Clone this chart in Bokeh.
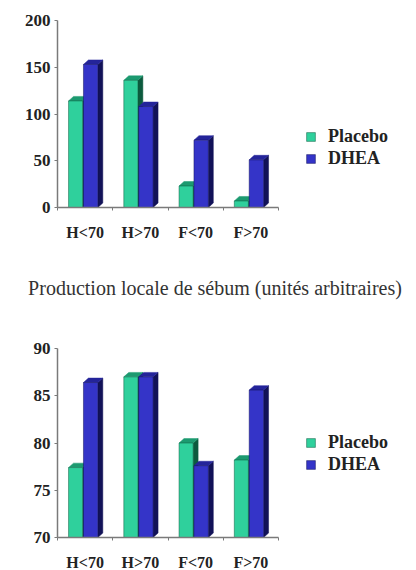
from bokeh.plotting import figure
from bokeh.models import FixedTicker, Legend, LegendItem, Div
from bokeh.layouts import column
from bokeh.embed import file_html
from bokeh.resources import INLINE

categories = ["H<70", "H>70", "F<70", "F>70"]
series = ["Placebo", "DHEA"]

# Chart 1: production locale de sébum
top_placebo = [114, 136, 23, 7]
top_dhea = [153, 108, 72, 51]
top_ticks = [0, 50, 100, 150, 200]

# Chart 2
bot_placebo = [77.4, 87.0, 80.0, 78.2]
bot_dhea = [86.4, 87.0, 77.6, 85.6]
bot_ticks = [70, 75, 80, 85, 90]

caption = "Production locale de sébum (unités arbitraires)"

FRONT = {"Placebo": "#2fd09c", "DHEA": "#3434c8"}
TOPC = {"Placebo": "#1c9a70", "DHEA": "#24249a"}
SIDE = {"Placebo": "#0c5a3e", "DHEA": "#121258"}
FONT = "Liberation Serif"

FIG_W = 410
BORDER_L = 57
BORDER_R = 10
PLOT_PX = 221  # pixel width used by the four category slots


def make_chart(pl, dh, ticks, height, top_border, bottom_border, legend_y):
    y0, y1 = ticks[0], ticks[-1]
    n = len(categories)
    frame_w = FIG_W - BORDER_L - BORDER_R
    x_end = n * frame_w / PLOT_PX
    p = figure(width=FIG_W, height=height, output_backend="svg", toolbar_location=None,
               x_range=(0, x_end), y_range=(y0, y1),
               min_border_left=BORDER_L, min_border_right=BORDER_R,
               min_border_top=top_border, min_border_bottom=bottom_border)
    p.outline_line_color = None
    p.grid.visible = False
    p.background_fill_color = "white"

    frame_px = height - top_border - bottom_border
    dy = (y1 - y0) / frame_px * 4.5
    dx = 0.09
    offsets = {"Placebo": (0.20, 0.455), "DHEA": (0.47, 0.73)}
    items = []
    for name, vals in zip(series, [pl, dh]):
        a, b = offsets[name]
        lefts = [i + a for i in range(n)]
        rights = [i + b for i in range(n)]
        side_xs = [[r, r + dx, r + dx, r] for r in rights]
        side_ys = [[y0, y0 + dy, v + dy, v] for v in vals]
        top_xs = [[l, r, r + dx, l + dx] for l, r in zip(lefts, rights)]
        top_ys = [[v, v, v + dy, v + dy] for v in vals]
        p.patches(side_xs, side_ys, fill_color=SIDE[name], line_color=SIDE[name], line_width=0.5)
        p.patches(top_xs, top_ys, fill_color=TOPC[name], line_color=TOPC[name], line_width=0.5)
        r = p.quad(left=lefts, right=rights, bottom=y0, top=vals,
                   fill_color=FRONT[name], line_color=SIDE[name], line_width=0.5)
        items.append(LegendItem(label=name, renderers=[r]))

    p.xaxis.ticker = FixedTicker(ticks=[i + 0.5 for i in range(n)],
                                 minor_ticks=list(range(n + 1)))
    p.xaxis.major_label_overrides = {i + 0.5: c for i, c in enumerate(categories)}
    p.xaxis.bounds = (0, n)
    p.yaxis.ticker = FixedTicker(ticks=ticks)
    for ax in (p.xaxis[0], p.yaxis[0]):
        ax.axis_line_color = "#7a7a7a"
        ax.axis_line_width = 1.5
        ax.major_label_text_font = FONT
        ax.major_label_text_font_style = "bold"
        ax.major_label_text_color = "#222222"
    p.xaxis.major_tick_line_color = None
    p.xaxis.minor_tick_line_color = "#7a7a7a"
    p.xaxis.minor_tick_out = 3
    p.xaxis.minor_tick_in = 0
    p.xaxis.major_label_text_font_size = "16px"
    p.xaxis.major_label_standoff = 10
    p.yaxis.major_tick_line_color = "#7a7a7a"
    p.yaxis.major_tick_out = 3
    p.yaxis.major_tick_in = 0
    p.yaxis.minor_tick_line_color = None
    p.yaxis.major_label_text_font_size = "17px"
    p.yaxis.major_label_standoff = 4

    legend = Legend(items=items, location=(248, legend_y), border_line_color=None,
                    background_fill_alpha=0, glyph_width=11, glyph_height=11,
                    label_text_font=FONT, label_text_font_style="bold",
                    label_text_font_size="18px", label_text_color="#222222",
                    spacing=1, padding=0, margin=0, label_standoff=12)
    p.add_layout(legend)
    return p


p1 = make_chart(top_placebo, top_dhea, top_ticks, 272, 20, 65, 38)
div = Div(text=caption, width=410, height=44,
          styles={"font-family": FONT, "font-size": "20px", "color": "#333333",
                  "text-align": "center", "width": "410px", "line-height": "22px",
                  "padding-left": "10px", "overflow": "visible"})
p2 = make_chart(bot_placebo, bot_dhea, bot_ticks, 247, 22, 33, 62)

layout = column(p1, div, p2, spacing=0)
open("out.html", "w").write(file_html(layout, INLINE))
